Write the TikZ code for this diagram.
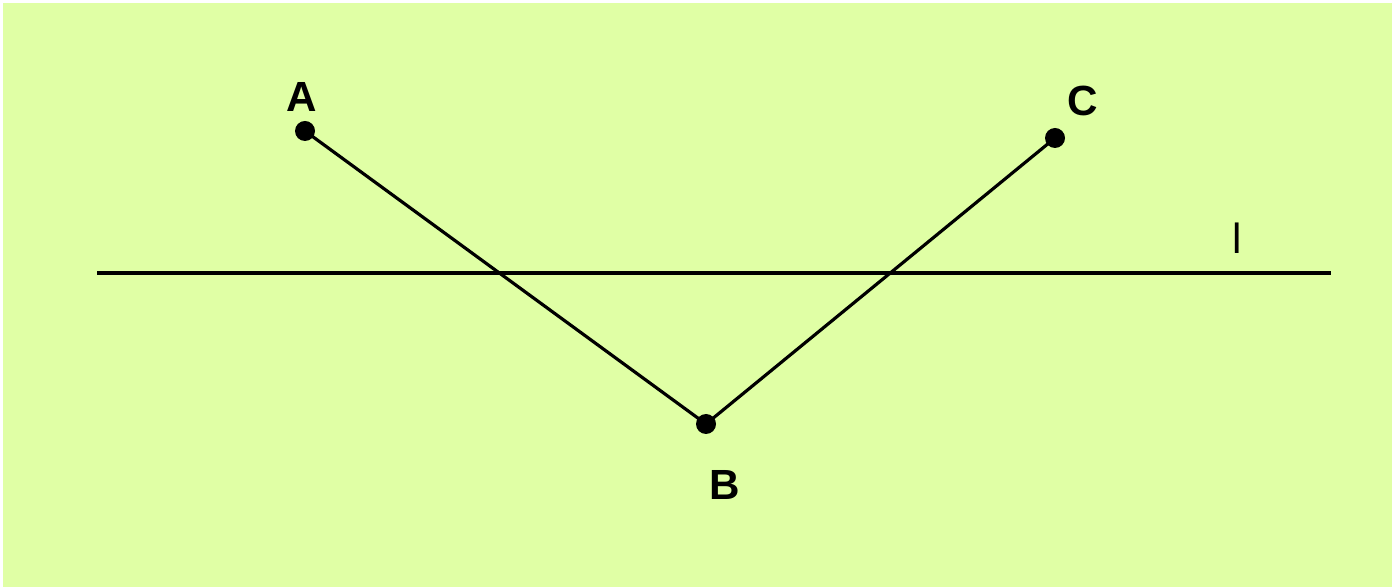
\documentclass[tikz,border=0pt]{standalone}
\usepackage{fontspec}
\setmainfont{Liberation Sans}
\usepackage{xcolor}
\usetikzlibrary{positioning}
\definecolor{paper}{RGB}{224,255,165}

\begin{document}
\begin{tikzpicture}[
 dot/.style={circle,fill=black,inner sep=0pt,minimum size=2mm},
 lbl/.style={font=\fontsize{12}{14}\selectfont\bfseries,inner sep=0pt},
 seg/.style={line width=0.9pt}]
\useasboundingbox (0,0) rectangle (13.92,-5.87);
\fill[paper] (0.03,-0.03) rectangle (13.92,-5.87);
\node[dot] (A) at (3.05,-1.31) {};
\node[dot] (B) at (7.06,-4.24) {};
\node[dot] (C) at (10.55,-1.38) {};
\node[lbl] (labA) at (3.02,-0.97) {A};
\node[lbl] (labB) at (7.25,-4.85) {B};
\node[lbl] (labC) at (10.83,-1.01) {C};
\node[lbl,font=\fontsize{12}{14}\selectfont] (labl) at (12.37,-2.38) {l};
\coordinate (lleft) at (0.97,-2.73);
\coordinate (lright) at (13.31,-2.73);
\draw[seg] (lleft)--(lright);
\draw[seg] (A.center)--(B.center)--(C.center);
\end{tikzpicture}
\end{document}
